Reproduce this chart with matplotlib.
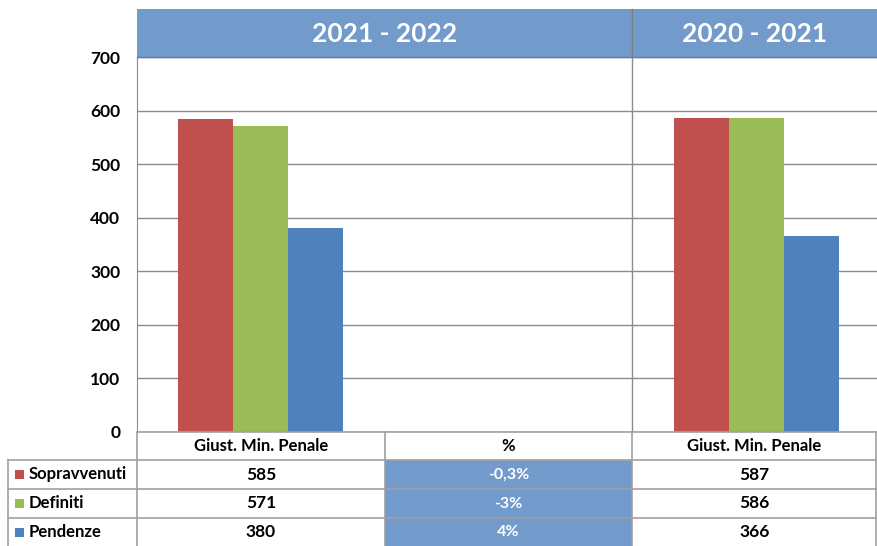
import matplotlib
matplotlib.use("Agg")
import matplotlib.pyplot as plt
from matplotlib.patches import Rectangle

plt.rcParams['font.family'] = ['Lato', 'DejaVu Sans']

periods = ["2021 - 2022", "2020 - 2021"]
columns = ["Giust. Min. Penale", "%", "Giust. Min. Penale"]
series = ["Sopravvenuti", "Definiti", "Pendenze"]
values_2122 = [585, 571, 380]
values_2021 = [587, 586, 366]
pct_labels = ["-0,3%", "-3%", "4%"]
yticks = [0, 100, 200, 300, 400, 500, 600, 700]
colors = ["#C0504D", "#9BBB59", "#4F81BD"]
hdr_blue = "#729ACA"
line_gray = "#A0A0A0"

W, H = 877, 546
fig = plt.figure(figsize=(W / 100, H / 100), dpi=100)

# pixel geometry
x_left, x_right = 137, 880
y_top, y_bot = 57, 432
col_edges = [137, 385, 632, 877]

ax = fig.add_axes([x_left / W, 1 - y_bot / H, (x_right - x_left) / W, (y_bot - y_top) / H])
ax.set_xlim(0, 3)
ax.set_ylim(0, 700)
bw = 0.222
cat_pos = [0.5, 2.5]
for i, s in enumerate(series):
    vals = [values_2122[i], values_2021[i]]
    ax.bar([p + (i - 1) * bw for p in cat_pos], vals, width=bw, color=colors[i], zorder=3)
ax.set_yticks(yticks)
ax.set_yticklabels([str(t) for t in yticks], fontsize=12.5, fontweight='bold')
ax.tick_params(axis='y', length=0, pad=12)
ax.set_xticks([])
ax.grid(axis='y', color='#8C8C8C', linewidth=1, zorder=0)
for sp in ['top', 'right', 'bottom']:
    ax.spines[sp].set_visible(False)
ax.spines['left'].set_color('#8C8C8C')
ax.axvline(2, color='#8C8C8C', linewidth=1, zorder=1)

# overlay for header and table
ov = fig.add_axes([0, 0, 1, 1])
ov.set_xlim(0, W)
ov.set_ylim(H, 0)
ov.axis('off')
ov.patch.set_alpha(0)

# header band
ov.add_patch(Rectangle((137, 9), 877 - 137, 48, facecolor=hdr_blue, edgecolor='none'))
ov.plot([632, 632], [9, 57], color='#7F7F7F', lw=1)
ov.plot([137, 877], [57, 57], color='#5A7FB0', lw=1)
ov.text((137 + 632) / 2, 34, periods[0], color='white', fontsize=19, fontweight='bold', ha='center', va='center')
ov.text((632 + 877) / 2, 34, periods[1], color='white', fontsize=19, fontweight='bold', ha='center', va='center')

# table
row_edges = [432, 460, 489, 518, 546]
lw = 1.2
for j in range(3):
    ov.text((col_edges[j] + col_edges[j + 1]) / 2, 446, columns[j], fontsize=12,
            fontweight='bold', ha='center', va='center')
for r in range(3):
    ov.add_patch(Rectangle((385, row_edges[r + 1]), 632 - 385, row_edges[r + 2] - row_edges[r + 1],
                           facecolor=hdr_blue, edgecolor='none'))
ov.plot([137, 877], [432, 432], color=line_gray, lw=lw)
for y in row_edges[1:4]:
    ov.plot([8, 877], [y, y], color=line_gray, lw=lw)
ov.plot([8, 8], [460, 546], color=line_gray, lw=lw)
for x in col_edges[:3]:
    ov.plot([x, x], [432, 546], color=line_gray, lw=lw)
ov.plot([876, 876], [432, 546], color=line_gray, lw=lw)

for r in range(3):
    yc = (row_edges[r + 1] + row_edges[r + 2]) / 2
    ov.add_patch(Rectangle((15, yc - 4.5), 9, 9, facecolor=colors[r], edgecolor='none'))
    ov.text(29, yc, series[r], fontsize=12, fontweight='bold', ha='left', va='center')
    ov.text((137 + 385) / 2, yc, str(values_2122[r]), fontsize=12.5, fontweight='bold', ha='center', va='center')
    ov.text((385 + 632) / 2, yc, pct_labels[r], fontsize=11.5, fontweight='bold', color='white', ha='center', va='center')
    ov.text((632 + 877) / 2, yc, str(values_2021[r]), fontsize=12.5, fontweight='bold', ha='center', va='center')

fig.savefig("out.png", dpi=100)
